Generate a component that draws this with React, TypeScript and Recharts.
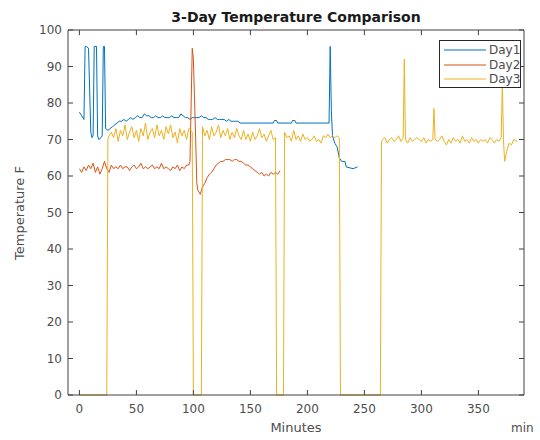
import React from "react";
import { LineChart, Line, XAxis, YAxis, ReferenceLine } from "recharts";

// minutes since start / temperature (F)
const day1Minutes = [
  0, 2, 4, 5, 6, 8, 10, 11, 12, 13, 15, 16, 17, 19, 20, 21, 22, 23, 25, 27, 29, 31, 33, 35, 37, 39,
  41, 43, 45, 47, 49, 51, 53, 55, 57, 59, 61, 63, 65, 67, 69, 71, 73, 75, 77, 79, 81, 83, 85, 87, 89,
  91, 93, 95, 97, 99, 101, 103, 105, 107, 109, 111, 113, 115, 117, 119, 121, 123, 125, 127, 129, 131,
  133, 135, 137, 139, 141, 150, 160, 170, 171, 173, 174, 186, 187, 189, 190, 200, 210, 219, 220, 221,
  222, 224, 226, 228, 230, 233, 234, 240, 244,
];
const day1Temps = [
  77.5, 76.5, 75.5, 95.5, 95.5, 95, 72, 70.5, 71, 95.5, 95.5, 71, 70, 70.5, 71, 95.5, 95.5, 73, 72.5,
  73, 73.5, 74, 74.5, 75, 75, 75.5, 75, 75.5, 76, 75.5, 76, 76.5, 76, 76, 77, 76.5, 76.5, 76, 76, 76.5,
  76, 76, 76.5, 76, 76, 76, 76.5, 76, 76, 76, 77, 76.5, 76, 76, 75.5, 76, 76, 76, 76, 76.5, 76, 76,
  75.5, 75.5, 75.5, 76, 75.5, 75.5, 75.5, 75.5, 75, 75.5, 75, 75, 75, 75, 74.5, 74.5, 74.5, 74.5, 75.2,
  75.2, 74.5, 74.5, 75.2, 75.2, 74.5, 74.5, 74.5, 74.5, 95.5, 78, 71, 69, 68, 65, 64, 64, 62.5, 62, 62.5,
];

const day2Minutes = [
  0, 2, 4, 6, 8, 10, 12, 14, 16, 18, 20, 22, 24, 26, 28, 30, 32, 34, 36, 38, 40, 42, 44, 46, 48, 50,
  52, 54, 56, 58, 60, 62, 64, 66, 68, 70, 72, 74, 76, 78, 80, 82, 84, 86, 88, 90, 92, 94, 96, 97, 99,
  100, 102, 103, 104, 106, 108, 110, 112, 114, 116, 118, 120, 122, 124, 126, 128, 130, 132, 134, 136,
  138, 140, 142, 144, 146, 148, 150, 152, 154, 156, 158, 160, 162, 164, 166, 168, 170, 172, 174, 176,
];
const day2Temps = [
  62, 61, 62.5, 61.5, 63, 62, 63.5, 61, 62.5, 60.5, 62, 64, 62, 61, 63, 62, 62.5, 62, 63, 62, 62.5,
  62.5, 61.5, 62.5, 63, 62, 62.5, 63.5, 62, 62.5, 62, 62.5, 63, 62, 62.5, 62, 63.5, 62, 62.5, 62, 61.5,
  62.5, 62, 63, 61.5, 62.5, 62, 63, 63, 64, 95, 92, 70, 58, 56, 55, 57, 58, 59.5, 60.5, 61, 62, 63,
  63.5, 64, 64, 64.5, 64.5, 64.5, 64, 64.5, 64.5, 64, 64, 63.5, 63, 63, 62.5, 62, 61.5, 61, 60.5, 61,
  60, 60.5, 60, 61, 60.5, 61, 60.5, 61.5,
];

// rows of ten, minutes and temps line up row by row
const day3Minutes = [
  0, 24,
  25, 26, 28, 30, 32, 34, 36, 38, 40, 42,
  44, 46, 48, 50, 52, 54, 56, 58, 60, 62,
  64, 66, 68, 70, 72, 74, 76, 78, 80, 82,
  84, 86, 88, 90, 92, 94, 96, 98, 99, 100,
  107, 108, 110, 112, 114, 116, 118, 120, 122, 124,
  126, 128, 130, 132, 134, 136, 138, 140, 142, 144,
  146, 148, 150, 152, 154, 156, 158, 160, 162, 164,
  166, 168, 170, 172, 173, 179, 180, 182, 184, 186,
  188, 190, 192, 194, 196, 198, 200, 202, 204, 206,
  208, 210, 212, 214, 216, 218, 220, 222, 224, 226,
  228, 229, 264, 265, 266, 268, 270, 272, 274, 276,
  278, 280, 282, 284, 285, 286, 288, 290, 292, 294,
  296, 298, 300, 302, 304, 306, 308, 310, 311, 312,
  314, 316, 318, 320, 322, 324, 326, 328, 330, 332,
  334, 336, 338, 340, 342, 344, 346, 348, 350, 352,
  354, 356, 358, 360, 362, 364, 366, 368, 370, 371,
  372, 373, 375, 377, 379, 381, 384,
];
const day3Temps = [
  0, 0,
  70, 71, 72, 70.5, 73, 69.5, 72.5, 71, 74, 70,
  72, 73.5, 70.5, 72.5, 69.5, 73, 71, 74.5, 70, 72,
  73, 70.5, 74, 71, 72.5, 70, 73.5, 71.5, 74, 70.5,
  72, 69, 73, 71, 72.5, 70, 73, 72.5, 72, 0,
  0, 73.5, 71, 72.5, 70, 73.5, 71, 72, 74, 70.5,
  72.5, 71, 73, 70, 72, 70.5, 73, 71, 70, 72.5,
  70, 71.5, 69.5, 72, 70, 71, 73, 70.5, 71.5, 69.5,
  71, 72.5, 70, 70.5, 0, 0, 72, 70.5, 71, 69.5,
  72.5, 70, 71, 69.5, 71.5, 70, 70.5, 69.5, 70, 71,
  69.5, 70, 69, 71, 70.5, 71.5, 70.5, 71, 70.5, 71,
  70.5, 0, 0, 69.5, 70, 70.5, 69, 70, 70.5, 69.5,
  70, 71, 69.5, 70.5, 92, 70, 69, 70.5, 69.5, 70,
  70.5, 70, 69.5, 70.5, 69, 70, 69.5, 70, 78.5, 70,
  69.5, 70, 71, 69.5, 68.5, 70, 69, 70.5, 69.5, 70,
  69, 71, 69.5, 70, 69, 70.5, 69.5, 70, 69, 70,
  69.5, 70, 69, 70.5, 70, 69, 70, 69.5, 70.5, 85,
  70, 64, 67, 69, 68.5, 70, 69.5,
];

const xTicks = [0, 50, 100, 150, 200, 250, 300, 350];
const yTicks = [0, 10, 20, 30, 40, 50, 60, 70, 80, 90, 100];

const series = [
  { name: "Day1", color: "#0072BD", minutes: day1Minutes, temps: day1Temps },
  { name: "Day2", color: "#D95319", minutes: day2Minutes, temps: day2Temps },
  { name: "Day3", color: "#EDB120", minutes: day3Minutes, temps: day3Temps },
];

const FONT = "'DejaVu Sans', sans-serif";
const AXIS = "#404040";
const TEXT = "#4d4d4d";

const toPoints = (m: number[], v: number[]) => m.map((t, i) => ({ t, v: v[i] }));

export default function App() {
  return (
    <div
      style={{
        position: "absolute",
        left: 0,
        top: 0,
        width: 540,
        height: 440,
        background: "#fff",
        fontFamily: FONT,
      }}
    >
      <LineChart width={540} height={440} margin={{ top: 30, right: 15, bottom: 15, left: 28 }}>
        <XAxis
          xAxisId="b"
          type="number"
          dataKey="t"
          domain={[-10, 390]}
          ticks={xTicks}
          allowDataOverflow
          height={30}
          stroke={AXIS}
          tickSize={-5}
          tickMargin={14}
          tick={{ fill: TEXT, fontSize: 12, fontFamily: FONT }}
        />
        <YAxis
          yAxisId="l"
          type="number"
          domain={[0, 100]}
          ticks={yTicks}
          width={40}
          stroke={AXIS}
          tickSize={-5}
          tickMargin={11}
          tick={{ fill: TEXT, fontSize: 12, fontFamily: FONT }}
        />
        <YAxis
          yAxisId="r"
          orientation="right"
          type="number"
          domain={[0, 100]}
          ticks={yTicks}
          width={1}
          stroke={AXIS}
          tickSize={-5}
          tickFormatter={() => ""}
        />
        {/* invisible series so the mirrored right axis of the box gets drawn */}
        <Line
          xAxisId="b"
          yAxisId="r"
          data={toPoints(day1Minutes, day1Temps)}
          dataKey="v"
          stroke="none"
          dot={false}
          activeDot={false}
          legendType="none"
          isAnimationActive={false}
        />
        {/* top edge of the axes box, with its inward ticks */}
        <ReferenceLine xAxisId="b" yAxisId="l" y={100} stroke={AXIS} />
        {xTicks.map((t) => (
          <ReferenceLine
            key={t}
            xAxisId="b"
            yAxisId="l"
            segment={[
              { x: t, y: 100 },
              { x: t, y: 98.6 },
            ]}
            stroke={AXIS}
          />
        ))}
        {series.map((s) => (
          <Line
            key={s.name}
            xAxisId="b"
            yAxisId="l"
            data={toPoints(s.minutes, s.temps)}
            dataKey="v"
            name={s.name}
            type="linear"
            stroke={s.color}
            strokeWidth={1}
            dot={false}
            activeDot={false}
            isAnimationActive={false}
          />
        ))}
      </LineChart>

      <svg
        width={540}
        height={440}
        style={{ position: "absolute", left: 0, top: 0, pointerEvents: "none" }}
      >
        <text x={296} y={22} textAnchor="middle" fontSize={14} fontWeight="bold" fill="#1a1a1a" fontFamily={FONT}>
          3-Day Temperature Comparison
        </text>
        <text x={296} y={432} textAnchor="middle" fontSize={13} fill={TEXT} fontFamily={FONT}>
          Minutes
        </text>
        <text x={511} y={432} fontSize={12} fill={TEXT} fontFamily={FONT}>
          min
        </text>
        <text
          x={24}
          y={213}
          textAnchor="middle"
          fontSize={13}
          fill={TEXT}
          fontFamily={FONT}
          transform="rotate(-90 24 213)"
        >
          Temperature F
        </text>
      </svg>

      <div
        style={{
          position: "absolute",
          left: 439,
          top: 40,
          width: 82,
          height: 48,
          border: "1px solid #262626",
          background: "#fff",
          boxSizing: "border-box",
        }}
      >
        {series.map((s, i) => (
          <div
            key={s.name}
            style={{ position: "absolute", left: 4, top: 2 + i * 14.5, height: 14, display: "flex", alignItems: "center" }}
          >
            <svg width={42} height={14}>
              <line x1={0} y1={7} x2={42} y2={7} stroke={s.color} strokeWidth={1} />
            </svg>
            <span style={{ marginLeft: 3, fontSize: 12, color: TEXT, lineHeight: "14px" }}>{s.name}</span>
          </div>
        ))}
      </div>
    </div>
  );
}
